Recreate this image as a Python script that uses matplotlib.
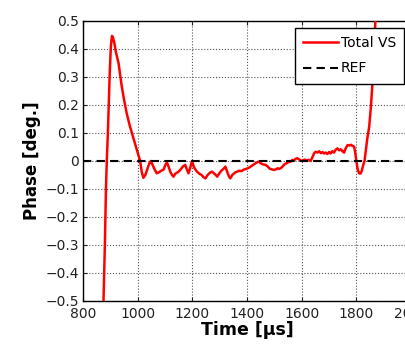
import matplotlib
matplotlib.use('Agg')
import matplotlib.pyplot as plt

# phase of total VS vs time
time_us = [870, 875, 880, 884, 887, 891, 894, 898, 902, 906, 910, 915, 920, 930,
           942, 950, 960, 970, 979, 988, 997, 1003, 1009, 1015, 1021, 1028, 1035,
           1042, 1048, 1055, 1062, 1070, 1078, 1086, 1095, 1101, 1107, 1113, 1120,
           1126, 1131, 1138, 1147, 1156, 1165, 1174, 1180, 1186, 1192, 1199, 1205,
           1211, 1217, 1225, 1234, 1241, 1248, 1256, 1264, 1272, 1280, 1286, 1291,
           1298, 1306, 1314, 1321, 1328, 1334, 1339, 1346, 1352, 1358, 1364, 1372,
           1380, 1390, 1398, 1407, 1413, 1420, 1428, 1436, 1443, 1450, 1458, 1468,
           1476, 1484, 1492, 1498, 1505, 1512, 1518, 1523, 1530, 1537, 1545, 1552,
           1560, 1566, 1572, 1578, 1584, 1590, 1596, 1603, 1610, 1617, 1625, 1633,
           1640, 1646, 1651, 1658, 1664, 1670, 1676, 1682, 1688, 1694, 1700, 1706,
           1712, 1718, 1724, 1731, 1737, 1743, 1749, 1755, 1761, 1768, 1774, 1780,
           1786, 1792, 1796, 1800, 1805, 1810, 1815, 1820, 1825, 1830, 1835, 1840,
           1847, 1853, 1859, 1864, 1868, 1872, 1880]
phase_deg = [-0.75, -0.5, -0.3, -0.1, 0.0, 0.1, 0.2, 0.32, 0.41, 0.447, 0.44, 0.42,
             0.39, 0.35, 0.265, 0.22, 0.17, 0.13, 0.1, 0.07, 0.04, 0.02, 0.0, -0.04,
             -0.06, -0.05, -0.03, -0.01, 0.0, -0.015, -0.03, -0.044, -0.04, -0.035,
             -0.03, -0.015, -0.005, -0.02, -0.04, -0.05, -0.056, -0.045, -0.04,
             -0.032, -0.02, -0.014, -0.03, -0.044, -0.025, 0.0, -0.02, -0.03, -0.038,
             -0.045, -0.05, -0.058, -0.062, -0.05, -0.042, -0.038, -0.045, -0.05,
             -0.056, -0.045, -0.035, -0.028, -0.02, -0.04, -0.055, -0.062, -0.05,
             -0.045, -0.04, -0.038, -0.035, -0.036, -0.03, -0.028, -0.024, -0.02,
             -0.015, -0.01, -0.005, -0.002, -0.008, -0.012, -0.014, -0.02, -0.028,
             -0.03, -0.032, -0.03, -0.026, -0.028, -0.026, -0.02, -0.012, -0.008,
             -0.004, -0.002, 0.004, 0.002, 0.008, 0.01, 0.006, 0.002, 0.0, 0.005,
             0.002, 0.004, 0.0, 0.015, 0.028, 0.033, 0.03, 0.035, 0.028, 0.032,
             0.027, 0.03, 0.025, 0.032, 0.027, 0.035, 0.03, 0.04, 0.045, 0.038,
             0.042, 0.035, 0.03, 0.045, 0.057, 0.055, 0.058, 0.054, 0.051, 0.03,
             0.0, -0.03, -0.044, -0.045, -0.035, -0.015, 0.0, 0.04, 0.08, 0.122,
             0.19, 0.277, 0.38, 0.47, 0.55, 0.7]

ref_time = [800, 2000]
ref_phase = [0, 0]

xticks = [800, 1000, 1200, 1400, 1600, 1800, 2000]
yticks = [-0.5, -0.4, -0.3, -0.2, -0.1, 0, 0.1, 0.2, 0.3, 0.4, 0.5]
ytick_labels = ['\u22120.5', '\u22120.4', '\u22120.3', '\u22120.2', '\u22120.1',
                '0', '0.1', '0.2', '0.3', '0.4', '0.5']

plt.rcParams['font.family'] = ['DejaVu Sans']

fig = plt.figure(figsize=(4.05, 3.44), dpi=100)
# axes run past the right edge, as in the reference crop
ax = fig.add_axes([83/405, 43/344, 328/405, 280/344])

ax.plot(time_us, phase_deg, color='#ff0000', lw=1.8, label='Total VS', zorder=3)
ax.plot(ref_time, ref_phase, color='black', lw=1.5, ls=(0, (4, 2.5)), label='REF', zorder=4)

ax.set_xlim(800, 2000)
ax.set_ylim(-0.5, 0.5)
ax.set_xticks(xticks)
ax.set_yticks(yticks)
ax.set_yticklabels(ytick_labels)
ax.tick_params(direction='in', top=True, right=True, labelsize=10, length=3,
               colors='#222222')
ax.tick_params(axis='x', pad=4)
ax.tick_params(axis='y', pad=3)
ax.grid(True, ls=':', color='#555555', lw=0.8)
for s in ax.spines.values():
    s.set_linewidth(1.0)

ax.set_xlabel('Time [\u00b5s]', fontsize=12.5, fontweight='bold', labelpad=0)
ax.set_ylabel('Phase [deg.]', fontsize=12, fontweight='bold', labelpad=3)

leg = ax.legend(loc='upper left', bbox_to_anchor=(0.646, 0.975), borderaxespad=0,
                fontsize=10, fancybox=False, framealpha=1, edgecolor='black',
                borderpad=0.6, handlelength=2.5, handletextpad=0.2, labelspacing=0.8)
leg.get_frame().set_linewidth(1.0)

fig.savefig('out.png', dpi=100)
